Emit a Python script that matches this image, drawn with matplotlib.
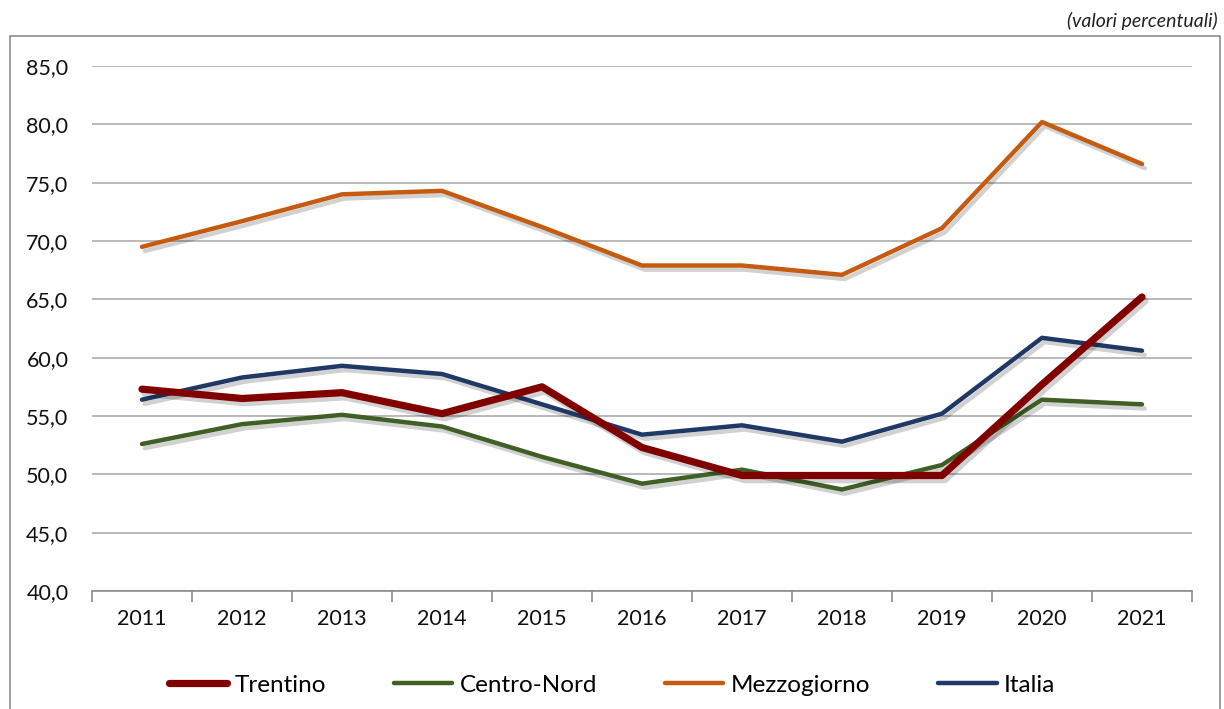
import matplotlib
matplotlib.use("Agg")
import matplotlib.pyplot as plt
import matplotlib.patheffects as pe
from matplotlib.patches import Rectangle
from matplotlib.ticker import FixedLocator, FuncFormatter

years = ["2011", "2012", "2013", "2014", "2015", "2016", "2017", "2018", "2019", "2020", "2021"]
trentino = [57.3, 56.5, 57.0, 55.2, 57.5, 52.3, 49.9, 49.9, 49.9, 57.7, 65.2]
centro_nord = [52.6, 54.3, 55.1, 54.1, 51.5, 49.2, 50.4, 48.7, 50.8, 56.4, 56.0]
mezzogiorno = [69.5, 71.7, 74.0, 74.3, 71.2, 67.9, 67.9, 67.1, 71.1, 80.2, 76.6]
italia = [56.4, 58.3, 59.3, 58.6, 56.0, 53.4, 54.2, 52.8, 55.2, 61.7, 60.6]

series = [
    ("Trentino", trentino, "#800000", 5.2),
    ("Centro-Nord", centro_nord, "#3F5F25", 3.2),
    ("Mezzogiorno", mezzogiorno, "#C55A11", 3.2),
    ("Italia", italia, "#1F3864", 3.2),
]

plt.rcParams["font.family"] = ["Lato", "DejaVu Sans"]

W, H = 1224, 709
fig = plt.figure(figsize=(W / 100, H / 100), dpi=100)
fig.patch.set_facecolor("white")

# outer frame
frame = Rectangle((10 / W, -0.1), 1210 / W, 1 - 36 / H + 0.1, transform=fig.transFigure,
                  fill=False, edgecolor="#8C8C8C", linewidth=1.2, clip_on=False)
fig.add_artist(frame)

fig.text(1218 / W, 1 - 21 / H, "(valori percentuali)", ha="right", va="center",
         fontsize=14, style="italic", color="#222222")

ax = fig.add_axes([92 / W, 1 - 591 / H, 1100 / W, (591 - 66) / H])
x = list(range(len(years)))
order = [2, 3, 1, 0]
handles = {}
for idx in order:
    name, vals, col, lw = series[idx]
    ln, = ax.plot(x, vals, color=col, linewidth=lw, solid_capstyle="round",
                  solid_joinstyle="round", label=name, zorder=3 + (idx == 0),
                  path_effects=[pe.SimpleLineShadow(offset=(2, -3), shadow_color="#000000", alpha=0.18),
                                pe.Normal()])
    handles[name] = ln

ax.set_xlim(-0.5, len(years) - 0.5)
ax.set_ylim(40, 85)
ax.yaxis.set_major_locator(FixedLocator([40, 45, 50, 55, 60, 65, 70, 75, 80, 85]))
ax.yaxis.set_major_formatter(FuncFormatter(lambda v, p: f"{v:.1f}".replace(".", ",")))
ax.grid(axis="y", color="#A6A6A6", linewidth=1.1, zorder=0)
ax.set_axisbelow(True)
for s in ["top", "right", "left"]:
    ax.spines[s].set_visible(False)
ax.spines["bottom"].set_color("#8C8C8C")
ax.spines["bottom"].set_linewidth(1.2)
ax.set_xticks(x)
ax.set_xticklabels(years)
ax.set_xticks([i - 0.5 for i in range(len(years) + 1)], minor=True)
ax.tick_params(axis="x", which="major", length=0, pad=13, labelsize=15.5, colors="#111111")
ax.tick_params(axis="x", which="minor", length=8, width=1.2, color="#8C8C8C", direction="out")
ax.tick_params(axis="y", length=0, pad=17, labelsize=15.5, colors="#111111")

legend_handles = [handles[s[0]] for s in series]
leg = fig.legend(legend_handles, [s[0] for s in series], loc="center", ncol=4,
                 bbox_to_anchor=(0.5, 1 - 685 / H), frameon=False, fontsize=17.5,
                 handlelength=2.4, handletextpad=0.3, columnspacing=2.8)
for lh in leg.get_lines():
    lh.set_path_effects([pe.Normal()])

fig.savefig("out.png", dpi=100, facecolor="white")
